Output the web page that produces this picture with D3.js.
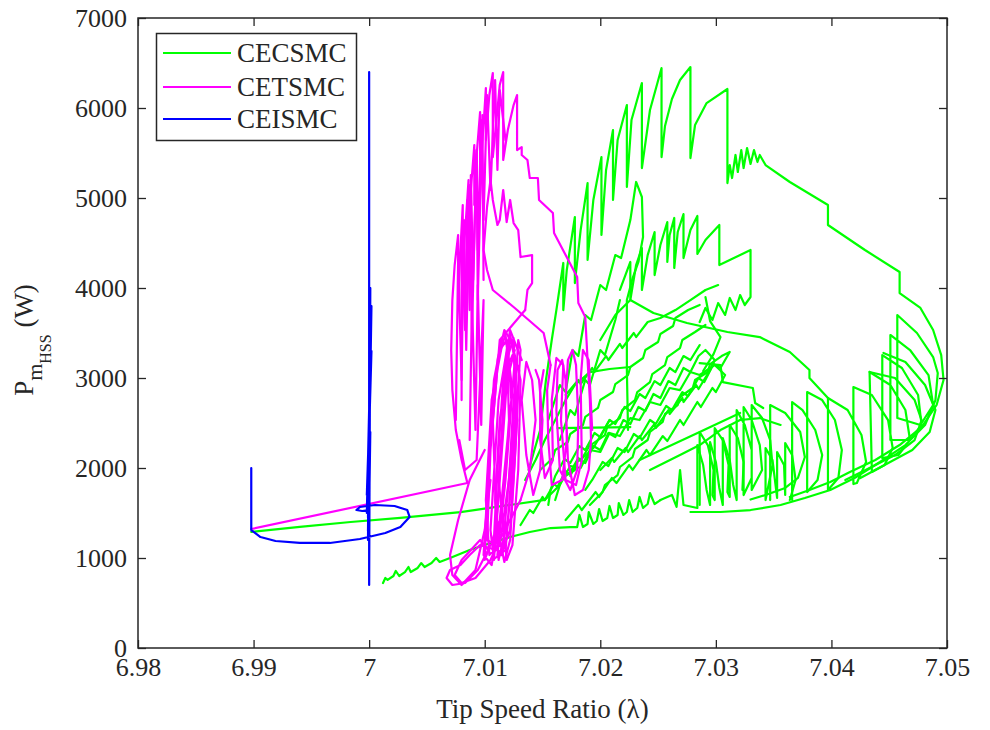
<!DOCTYPE html>
<html>
<head>
<meta charset="utf-8">
<script src="https://cdn.jsdelivr.net/npm/d3@7"></script>
<style>
  body { margin: 0; background: #ffffff; }
  text { font-family: "Liberation Serif", "Times New Roman", serif; fill: #262626; }
</style>
</head>
<body>
<svg id="chart" width="990" height="730"></svg>
<script>
// Tip speed ratio (lambda) vs. mechanical power on the high-speed shaft (W)
const xTicks = [6.98, 6.99, 7.00, 7.01, 7.02, 7.03, 7.04, 7.05];
const xTickLabels = ["6.98", "6.99", "7", "7.01", "7.02", "7.03", "7.04", "7.05"];
const yTicks = [0, 1000, 2000, 3000, 4000, 5000, 6000, 7000];
const seriesNames = ["CECSMC", "CETSMC", "CEISMC"];
const seriesColors = ["#00ff00", "#ff00ff", "#0000ff"];

// ---- CECSMC trajectory, [lambda, P] ----
const cecStart = [[6.9898,1290],[6.9940,1345],[6.9984,1400],[7.0027,1445],[7.0079,1510],[7.0152,1645]];
const cecRamp = [[7.0012,722],[7.0014,778],[7.0016,756],[7.0021,800],[7.0023,856],[7.0026,800],[7.0031,844],[7.0034,900],[7.0036,844],[7.0042,889],[7.0045,944],[7.0048,900],[7.0054,944],[7.0058,1000],[7.0061,956],[7.0070,1000],[7.0087,1089],[7.0105,1167],[7.0122,1233],[7.0139,1289],[7.0157,1333],[7.0174,1344],[7.0180,1344],[7.0182,1478],[7.0185,1344],[7.0189,1378],[7.0190,1511],[7.0194,1378],[7.0197,1411],[7.0199,1544],[7.0202,1411],[7.0206,1444],[7.0208,1578],[7.0211,1444],[7.0215,1478],[7.0216,1611],[7.0220,1478],[7.0223,1511],[7.0225,1644],[7.0228,1511],[7.0232,1556],[7.0234,1678],[7.0237,1556],[7.0241,1600],[7.0243,1722],[7.0247,1600],[7.0252,1644]];
const cecBand = [[7.0252,1644],[7.0262,1700],[7.0266,1567],[7.0269,1978],[7.0272,1589],[7.0284,1556],[7.0284,2255],[7.0289,2033],[7.0292,1756],[7.0295,1589],[7.0295,2289],[7.0300,2067],[7.0303,1778],[7.0306,1589],[7.0306,2333],[7.0312,2089],[7.0315,1811],[7.0318,1644],[7.0318,2644],[7.0325,2478],[7.0331,2200],[7.0331,1889],[7.0324,1700],[7.0324,2678],[7.0331,2533],[7.0338,2255],[7.0340,1978],[7.0331,1756],[7.0331,2700],[7.0340,2555],[7.0347,2311],[7.0349,2033],[7.0343,1644],[7.0343,2222],[7.0349,2089],[7.0353,1667],[7.0353,2178],[7.0359,2033],[7.0360,1700],[7.0360,2278],[7.0366,2144],[7.0369,1867],[7.0364,1644]];
const cecBand2 = [[7.0286,1589],[7.0286,2400],[7.0293,2255],[7.0298,1978],[7.0297,1700],[7.0299,1644],[7.0299,2444],[7.0306,2311],[7.0311,2033],[7.0310,1733],[7.0312,1678],[7.0312,2478],[7.0319,2333],[7.0324,2067],[7.0323,1756]];
const cecLoops = [[7.0366,1644],[7.0366,2733],[7.0375,2644],[7.0386,2422],[7.0392,2144],[7.0388,1867],[7.0379,1733],[7.0379,2844],[7.0392,2755],[7.0403,2533],[7.0409,2200],[7.0406,1889],[7.0397,1756],[7.0397,2778],[7.0414,2644],[7.0426,2367],[7.0430,2067],[7.0422,1833],[7.0419,1822],[7.0419,2900],[7.0435,2811],[7.0449,2533],[7.0453,2222],[7.0446,2033],[7.0435,1956],[7.0433,3067],[7.0451,2922],[7.0464,2644],[7.0468,2311],[7.0458,2144],[7.0444,2111],[7.0444,3255],[7.0461,3111],[7.0475,2811],[7.0478,2478],[7.0468,2311],[7.0451,2311],[7.0451,3478],[7.0468,3311],[7.0484,3033],[7.0488,2700],[7.0477,2478],[7.0457,2555],[7.0457,3700],[7.0474,3500],[7.0488,3233],[7.0492,3055],[7.0490,2755],[7.0481,2478],[7.0464,2255],[7.0442,2067],[7.0420,1889],[7.0399,1756],[7.0377,1667],[7.0356,1589],[7.0330,1533],[7.0304,1511],[7.0278,1511]];
const cecLoops2 = [[7.0347,1644],[7.0347,2700],[7.0360,2611],[7.0373,2400],[7.0377,2122],[7.0371,1889],[7.0360,1778],[7.0343,1700],[7.0330,1650]];
const cecOuterArc1 = [[7.0445,3278],[7.0464,3178],[7.0481,2922],[7.0490,2644],[7.0485,2400],[7.0470,2200],[7.0446,2033],[7.0425,1889]];
const cecOuterArc2 = [[7.0433,3067],[7.0455,3000],[7.0472,2755],[7.0478,2533],[7.0472,2311],[7.0455,2144],[7.0433,2000],[7.0412,1867]];
const cecFan = [[7.0138,1978],[7.0148,2422],[7.0153,2978],[7.0158,3422],[7.0162,3755],[7.0168,4278],[7.0168,3755],[7.0171,4200],[7.0178,4789],[7.0178,4055],[7.0183,4644],[7.0189,5166],[7.0189,4311],[7.0194,4978],[7.0201,5455],[7.0201,4589],[7.0205,5311],[7.0211,5755],[7.0211,4978],[7.0215,5644],[7.0223,6033],[7.0223,5122],[7.0227,5866],[7.0236,6277],[7.0236,5333],[7.0243,5978],[7.0253,6444],[7.0253,5455],[7.0256,5800],[7.0262,6100],[7.0269,6311],[7.0278,6455],[7.0278,5444],[7.0282,5811],[7.0292,6055],[7.0310,6211],[7.0310,5166],[7.0312,5366],[7.0314,5222],[7.0317,5478],[7.0319,5289],[7.0322,5533],[7.0324,5333],[7.0327,5555],[7.0330,5378],[7.0333,5533],[7.0336,5400],[7.0338,5478],[7.0343,5366],[7.0364,5178],[7.0397,4922],[7.0397,4700],[7.0429,4422],[7.0459,4178],[7.0459,3944],[7.0477,3778],[7.0488,3533],[7.0495,3255],[7.0497,2978],[7.0491,2700],[7.0478,2455],[7.0459,2255],[7.0438,2089],[7.0416,1956],[7.0399,1844],[7.0381,1756],[7.0364,1678]];
const cecFan2 = [[7.0217,3978],[7.0226,4289],[7.0226,3866],[7.0231,4255],[7.0236,4444],[7.0236,3978],[7.0241,4366],[7.0247,4622],[7.0247,4144],[7.0252,4478],[7.0258,4733],[7.0258,4289],[7.0260,4589],[7.0264,4778],[7.0264,4222],[7.0267,4622],[7.0272,4822],[7.0272,4333],[7.0278,4644],[7.0284,4800],[7.0284,4378],[7.0291,4533],[7.0303,4700],[7.0303,4255],[7.0330,4422],[7.0330,3900],[7.0325,3811],[7.0321,3922],[7.0317,3755],[7.0312,3889],[7.0308,3700],[7.0302,3833],[7.0297,3644],[7.0291,3778],[7.0286,3622]];
const cecStrand = [[7.0291,3900],[7.0295,3633],[7.0304,3455],[7.0298,3266],[7.0289,3078]];
const cecArc = [[7.0200,3422],[7.0213,3700],[7.0226,3866],[7.0246,3722],[7.0275,3611],[7.0310,3511],[7.0338,3455],[7.0364,3289],[7.0381,3089],[7.0381,3000],[7.0397,2778]];
const cecSteps = [[7.0286,3166],[7.0304,3144],[7.0306,2955],[7.0332,2889],[7.0334,2722],[7.0341,2667]];
const cecSweep = [[7.0234,2089],[7.0286,2400],[7.0321,2611]];
const cecSweep2 = [[7.0243,1978],[7.0269,2144],[7.0286,2255],[7.0304,2422],[7.0321,2533],[7.0338,2555],[7.0356,2478]];
const cecBandA = [[7.0152,1644],[7.0165,1811],[7.0167,1889],[7.0178,1978],[7.0180,2067],[7.0191,2178],[7.0193,2266],[7.0204,2366],[7.0206,2455],[7.0217,2555],[7.0219,2644],[7.0230,2755],[7.0232,2844],[7.0243,2955],[7.0245,3044],[7.0256,3144],[7.0258,3233],[7.0269,3333],[7.0271,3422],[7.0282,3511],[7.0291,3589]];
const cecBandB = [[7.0286,3366],[7.0278,3200],[7.0272,3244],[7.0265,3066],[7.0260,3111],[7.0252,2922],[7.0247,2966],[7.0239,2778],[7.0234,2822],[7.0226,2633],[7.0221,2678],[7.0213,2489],[7.0208,2533],[7.0200,2344],[7.0195,2389],[7.0187,2200],[7.0182,2244],[7.0174,2055],[7.0169,2100],[7.0161,1911],[7.0157,1756],[7.0155,1589]];
const cecBandC = [[7.0170,1422],[7.0181,1589],[7.0184,1533],[7.0196,1733],[7.0199,1678],[7.0210,1889],[7.0214,1833],[7.0225,2033],[7.0228,1978],[7.0240,2200],[7.0243,2144],[7.0254,2355],[7.0258,2300],[7.0269,2533],[7.0272,2478],[7.0284,2733],[7.0287,2678],[7.0297,2889],[7.0300,2844],[7.0308,3033],[7.0299,3144],[7.0286,3033],[7.0278,3066],[7.0269,2866],[7.0260,2889],[7.0252,2700],[7.0243,2733],[7.0234,2533],[7.0226,2555],[7.0217,2355],[7.0208,2389],[7.0200,2178],[7.0191,2200],[7.0183,2000],[7.0174,2022],[7.0165,1811],[7.0161,1644]];
const cecBandE = [[7.0135,1867],[7.0144,2089],[7.0152,2311],[7.0161,2533],[7.0170,2755],[7.0178,2922],[7.0191,3066],[7.0208,3100],[7.0226,3122]];
const cecBandF = [[7.0155,2533],[7.0165,2922],[7.0170,2844],[7.0176,3311],[7.0181,3244],[7.0187,3700],[7.0192,3644],[7.0200,4033],[7.0205,3978],[7.0213,4366],[7.0218,4333],[7.0226,4755],[7.0231,5178],[7.0236,5011],[7.0237,4567],[7.0233,4289],[7.0228,4111],[7.0223,3866],[7.0223,3089],[7.0224,2422]];
const cecBandG = [[7.0165,2311],[7.0174,2644],[7.0178,2589],[7.0187,2978],[7.0191,2922],[7.0200,3311],[7.0204,3255],[7.0213,3644],[7.0217,3866]];
const cecBandH = [[7.0148,1978],[7.0159,2111],[7.0161,2200],[7.0172,2289],[7.0174,2378],[7.0185,2478],[7.0187,2567],[7.0198,2667],[7.0200,2755],[7.0211,2844],[7.0213,2933],[7.0224,3033],[7.0226,3122],[7.0237,3222],[7.0239,3311],[7.0250,3400],[7.0252,3489],[7.0263,3578],[7.0265,3667],[7.0276,3755],[7.0286,3811]];
const cecBandI = [[7.0191,1589],[7.0202,1733],[7.0204,1811],[7.0215,1922],[7.0217,2011],[7.0228,2122],[7.0230,2211],[7.0241,2311],[7.0243,2400],[7.0254,2511],[7.0256,2600],[7.0267,2700],[7.0269,2789],[7.0280,2889],[7.0282,2978],[7.0293,3067],[7.0295,3155],[7.0305,3244],[7.0312,3289],[7.0304,3111],[7.0298,3155],[7.0290,2955],[7.0285,3000],[7.0276,2800],[7.0271,2844],[7.0262,2644],[7.0257,2689],[7.0248,2489],[7.0243,2533],[7.0234,2333],[7.0229,2378],[7.0221,2178],[7.0215,2222],[7.0207,2022],[7.0202,2067],[7.0193,1867],[7.0187,1756]];
const cecBandL = [[7.0131,1367],[7.0139,1533],[7.0142,1500],[7.0150,1678],[7.0152,1644],[7.0160,1822],[7.0163,1789],[7.0170,1967],[7.0173,1933],[7.0181,2111],[7.0183,2078],[7.0191,2255],[7.0194,2222],[7.0202,2400],[7.0208,2533]];
const cecBandN = [[7.0200,1978],[7.0210,2111],[7.0212,2067],[7.0222,2222],[7.0224,2178],[7.0234,2355],[7.0236,2311],[7.0247,2489],[7.0248,2444],[7.0259,2644],[7.0260,2600],[7.0271,2778],[7.0272,2733],[7.0283,2922],[7.0285,2878],[7.0295,3089],[7.0299,3200],[7.0291,3311],[7.0285,3244],[7.0278,3067],[7.0272,3111],[7.0265,2922],[7.0259,2966],[7.0252,2778],[7.0246,2822],[7.0239,2633],[7.0233,2678],[7.0226,2489],[7.0220,2533],[7.0213,2344],[7.0207,2389],[7.0200,2200],[7.0194,2244],[7.0187,2055],[7.0181,2100],[7.0174,1911]];
const cecBandO = [[7.0170,2811],[7.0181,2978],[7.0183,2933],[7.0193,3111],[7.0195,3067],[7.0205,3244],[7.0207,3200],[7.0217,3378],[7.0219,3333],[7.0229,3500],[7.0231,3455],[7.0241,3622],[7.0252,3667],[7.0265,3755],[7.0278,3866],[7.0291,3978],[7.0302,4033]];
const cecChord = [[7.0163,2444],[7.0226,2455]];

// ---- CETSMC trajectory ----
const cetStart = [[6.9898,1322],[7.0085,1833]];
const cetLobe = [[7.0085,1833],[7.0080,2089],[7.0075,2422],[7.0072,2866],[7.0071,3311],[7.0072,3866],[7.0074,4255],[7.0077,4589],[7.0077,3866],[7.0079,4422],[7.0081,4922],[7.0081,4255],[7.0084,4811],[7.0086,5200],[7.0086,4478],[7.0088,5089],[7.0091,5589],[7.0091,4922],[7.0093,5478],[7.0096,5955],[7.0096,5255],[7.0099,5811],[7.0101,6222],[7.0101,5644],[7.0104,6144],[7.0107,6389],[7.0107,5455],[7.0111,5978],[7.0113,6255],[7.0116,6400],[7.0116,5422],[7.0120,5755],[7.0125,6033],[7.0128,6144],[7.0128,5533],[7.0132,5566],[7.0132,5478],[7.0137,5422],[7.0139,5222],[7.0146,5222],[7.0147,4978],[7.0159,4833],[7.0160,4611],[7.0170,4366],[7.0180,4122],[7.0181,3833],[7.0187,3678],[7.0189,3200],[7.0191,2755],[7.0192,2311],[7.0190,1978],[7.0185,1755],[7.0178,1700]];
const cetTeeth = [[7.0080,2755],[7.0080,4533],[7.0083,3533],[7.0085,4978],[7.0087,3755],[7.0088,5255],[7.0090,4089],[7.0093,5533],[7.0094,4422],[7.0097,5866],[7.0099,4755],[7.0102,6144],[7.0105,5089],[7.0109,6311],[7.0111,5311],[7.0113,6200],[7.0118,5644]];
const cetTeeth2 = [[7.0075,2533],[7.0077,4311],[7.0080,2978],[7.0082,4755],[7.0084,3311],[7.0087,5144],[7.0089,3533],[7.0093,5533],[7.0094,3866],[7.0098,5922],[7.0099,4089]];
const cetRightLoops = [[7.0178,1700],[7.0172,2089],[7.0170,2755],[7.0172,3200],[7.0176,3311],[7.0179,3144],[7.0181,2533],[7.0180,1978],[7.0174,1755],[7.0165,1978],[7.0162,2644],[7.0163,3089],[7.0167,3200],[7.0170,2978],[7.0171,2311],[7.0167,1867],[7.0158,1811],[7.0155,2311],[7.0154,2866],[7.0157,3144]];
const cetRightLoops2 = [[7.0193,2422],[7.0190,3200],[7.0185,3311],[7.0183,2978],[7.0184,2089],[7.0179,1811],[7.0170,1867],[7.0166,2533],[7.0168,3144],[7.0162,3222],[7.0158,2755],[7.0159,2089],[7.0152,1889],[7.0148,2311],[7.0148,2866],[7.0151,3089]];
const cetInner = [[7.0157,3144],[7.0151,3500],[7.0126,3778],[7.0107,3978],[7.0102,4200],[7.0099,4422],[7.0102,4900],[7.0105,5200],[7.0107,4978],[7.0111,4700],[7.0113,4755],[7.0116,5089],[7.0119,4733],[7.0122,4978],[7.0125,4722],[7.0129,4644],[7.0131,4344],[7.0141,4366],[7.0141,4055],[7.0137,3978],[7.0135,3755]];
const cetCore = [[7.0135,3755],[7.0113,3422],[7.0105,2200],[7.0102,1200],[7.0109,1144],[7.0118,2755],[7.0122,3478],[7.0126,3200],[7.0118,1867],[7.0111,1033],[7.0115,1033],[7.0124,2311],[7.0129,3422],[7.0131,3311],[7.0124,1978],[7.0118,1089],[7.0107,978],[7.0112,2200],[7.0116,2978],[7.0120,3366],[7.0123,2755],[7.0113,1422],[7.0100,978],[7.0103,1978],[7.0108,2978],[7.0113,3311],[7.0119,3422],[7.0121,2533],[7.0116,1644],[7.0106,922],[7.0099,1033],[7.0105,2311],[7.0111,3200],[7.0117,3533],[7.0125,3366],[7.0127,2533],[7.0120,1422],[7.0112,978],[7.0109,1644],[7.0113,2533],[7.0119,3089],[7.0124,3255],[7.0130,3089],[7.0126,2089],[7.0122,1311],[7.0115,1067]];
const cetCore2 = [[7.0132,3200],[7.0122,3533],[7.0112,2755],[7.0105,1311],[7.0108,978],[7.0113,1978],[7.0119,3200],[7.0125,3444],[7.0128,2533],[7.0122,1200],[7.0117,956],[7.0110,1422],[7.0107,2533],[7.0112,3255],[7.0118,3478],[7.0125,2755],[7.0121,1867],[7.0113,1144],[7.0104,1033],[7.0101,1644],[7.0106,2755],[7.0115,3366],[7.0123,3422],[7.0131,2978],[7.0129,1978],[7.0124,1144],[7.0119,978],[7.0112,1867],[7.0117,2866],[7.0126,3311]];
const cetTail = [[7.0115,1067],[7.0096,1144],[7.0087,1033],[7.0079,922],[7.0070,867],[7.0067,778],[7.0072,700],[7.0083,722],[7.0094,867],[7.0103,1089],[7.0096,1200],[7.0080,978],[7.0074,811],[7.0080,722],[7.0092,778],[7.0105,978],[7.0113,1200],[7.0122,1422],[7.0131,1644]];
const cetBottom = [[7.0100,2200],[7.0087,1867],[7.0077,1422],[7.0070,1033],[7.0072,811],[7.0080,700],[7.0092,867],[7.0100,1311],[7.0105,1867]];
const cetMid = [[7.0131,1644],[7.0139,1978],[7.0144,2533],[7.0141,2978],[7.0136,3178],[7.0132,2755],[7.0136,2144],[7.0142,1700],[7.0148,1978],[7.0150,2533],[7.0147,2978],[7.0144,3089]];
const cetLeft = [[7.0087,2311],[7.0089,3866],[7.0092,2422],[7.0094,4033],[7.0097,2478],[7.0099,3866],[7.0093,2089],[7.0083,1978],[7.0078,2311]];

// ---- CEISMC trajectory ----
const ceiPath = [[6.9898,2000],[6.9898,1310],[6.9906,1233],[6.9919,1189],[6.9940,1167],[6.9966,1167],[6.9992,1211],[7.0014,1278],[7.0027,1344],[7.0035,1456],[7.0033,1533],[7.0022,1578],[7.0005,1589],[6.9992,1567],[6.9989,1533],[6.9994,1522],[7.0000,1533],[7.0000,6400],[7.0000,4050],[7.0000,700],[7.0001,4000],[6.9999,1200],[7.0001,3500],[6.9999,1300],[7.0001,3000],[6.9999,1450],[7.0002,3800],[6.9998,1500],[7.0002,3300],[6.9998,1700],[7.0001,2400],[7.0000,1550]];

const seriesPaths = [
  [cecStart, cecRamp, cecBand, cecBand2, cecLoops, cecLoops2, cecOuterArc1, cecOuterArc2, cecFan, cecFan2, cecStrand,
   cecArc, cecSteps, cecSweep, cecSweep2, cecBandA, cecBandB, cecBandC, cecBandE, cecBandF, cecBandG,
   cecBandH, cecBandI, cecBandL, cecBandN, cecBandO, cecChord],
  [cetStart, cetLobe, cetTeeth, cetTeeth2, cetRightLoops, cetRightLoops2, cetInner, cetCore, cetCore2, cetTail, cetBottom, cetMid, cetLeft],
  [ceiPath]
];

const svg = d3.select("#chart");
const frame = { left: 138, right: 947, top: 18, bottom: 648 };
const x = d3.scaleLinear().domain([6.98, 7.05]).range([frame.left, frame.right]);
const y = d3.scaleLinear().domain([0, 7000]).range([frame.bottom, frame.top]);
const axisColor = "#262626";

// trajectories
const line = d3.line().x(d => x(d[0])).y(d => y(d[1]));
const plot = svg.append("g");
seriesPaths.forEach((segs, i) => {
  plot.append("g").selectAll("path").data(segs).join("path")
    .attr("d", line)
    .attr("fill", "none")
    .attr("stroke", seriesColors[i])
    .attr("stroke-width", 2.2)
    .attr("stroke-linejoin", "round")
    .attr("stroke-linecap", "round");
});

// axes: ticks point inward on all four sides
function styleAxis(g) {
  g.select(".domain").remove();
  g.selectAll(".tick line").attr("stroke", axisColor).attr("stroke-width", 1.3);
  g.selectAll(".tick text").attr("font-family", null).style("font-size", "26px").attr("fill", axisColor);
}
svg.append("g").attr("transform", `translate(0,${frame.bottom})`)
  .call(d3.axisBottom(x).tickValues(xTicks).tickFormat((d, i) => xTickLabels[i]).tickSize(-8).tickPadding(10))
  .call(styleAxis);
svg.append("g").attr("transform", `translate(0,${frame.top})`)
  .call(d3.axisTop(x).tickValues(xTicks).tickFormat("").tickSize(-8))
  .call(styleAxis);
svg.append("g").attr("transform", `translate(${frame.left},0)`)
  .call(d3.axisLeft(y).tickValues(yTicks).tickFormat(d3.format("d")).tickSize(-8).tickPadding(11))
  .call(styleAxis);
svg.append("g").attr("transform", `translate(${frame.right},0)`)
  .call(d3.axisRight(y).tickValues(yTicks).tickFormat("").tickSize(-8))
  .call(styleAxis);

svg.append("rect")
  .attr("x", frame.left).attr("y", frame.top)
  .attr("width", frame.right - frame.left).attr("height", frame.bottom - frame.top)
  .attr("fill", "none").attr("stroke", axisColor).attr("stroke-width", 1.5);

// axis titles
svg.append("text")
  .attr("x", (frame.left + frame.right) / 2).attr("y", 718)
  .attr("text-anchor", "middle").style("font-size", "27px")
  .text("Tip Speed Ratio (λ)");

const yTitle = svg.append("text")
  .attr("transform", "translate(33,340) rotate(-90)")
  .attr("text-anchor", "middle").style("font-size", "27px");
yTitle.append("tspan").text("P");
yTitle.append("tspan").attr("dy", 9).style("font-size", "22px").text("m");
yTitle.append("tspan").attr("dy", 9).style("font-size", "16px").text("HSS");
yTitle.append("tspan").attr("dy", -18).text(" (W)");

// legend
const legend = svg.append("g");
legend.append("rect")
  .attr("x", 156.5).attr("y", 33.5).attr("width", 200).attr("height", 107)
  .attr("fill", "#ffffff").attr("stroke", axisColor).attr("stroke-width", 1.5);
const legendY = [53, 87, 119];
seriesNames.forEach((name, i) => {
  legend.append("line")
    .attr("x1", 163).attr("x2", 231).attr("y1", legendY[i]).attr("y2", legendY[i])
    .attr("stroke", seriesColors[i]).attr("stroke-width", 2.2);
  legend.append("text")
    .attr("x", 237).attr("y", legendY[i] + 9)
    .style("font-size", "27px").text(name);
});
</script>
</body>
</html>
